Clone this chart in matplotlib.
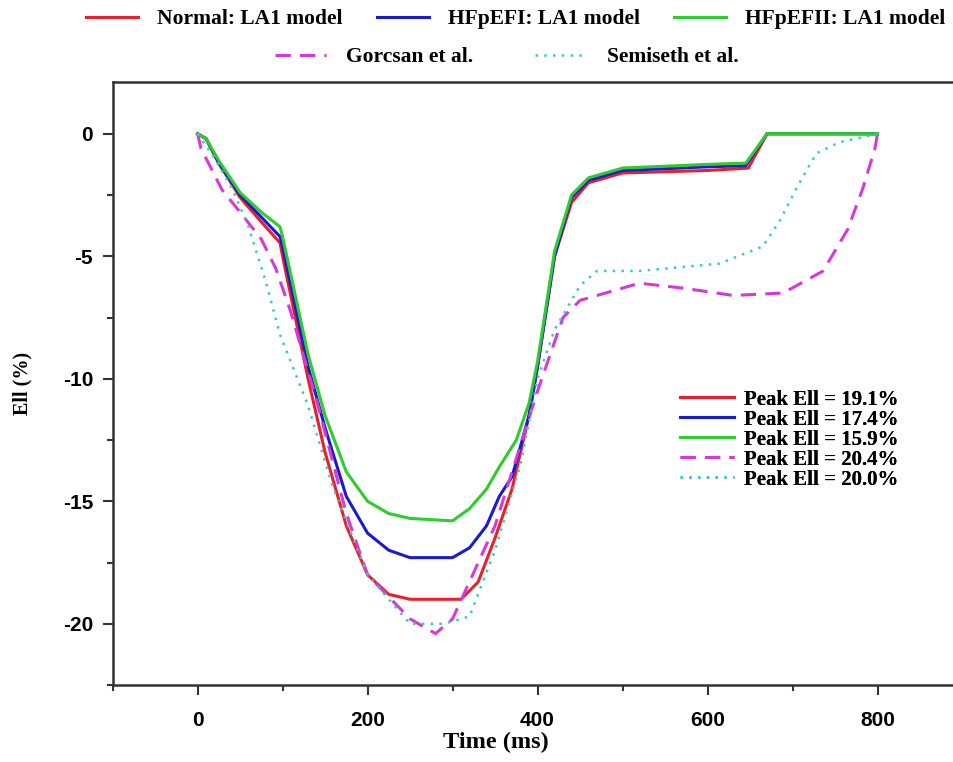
import numpy as np
import matplotlib.pyplot as plt
from matplotlib.ticker import MultipleLocator

plt.rcParams['axes.unicode_minus'] = False

# Normal: LA1 model (red)
t_red = [0, 10, 25, 50, 75, 97, 100, 130, 150, 175, 200, 225, 250, 310, 330, 350, 370, 390, 400, 420, 440, 460, 500, 600, 648, 670, 800]
e_red = [0, -0.2, -1.2, -2.6, -3.6, -4.45, -5.0, -10.0, -13.0, -16.0, -18.0, -18.8, -19.0, -19.0, -18.3, -16.5, -14.5, -11.5, -9.5, -5.0, -2.8, -2.0, -1.6, -1.5, -1.4, 0, 0]

# HFpEFI: LA1 model (blue)
t_blue = [0, 10, 25, 50, 75, 97, 100, 130, 150, 175, 200, 225, 250, 300, 320, 340, 355, 370, 390, 400, 420, 440, 460, 500, 600, 645, 670, 800]
e_blue = [0, -0.2, -1.2, -2.5, -3.4, -4.2, -4.6, -9.5, -12.0, -14.8, -16.3, -17.0, -17.3, -17.3, -16.9, -16.0, -14.8, -14.0, -11.5, -9.5, -5.0, -2.6, -1.9, -1.5, -1.35, -1.3, 0, 0]

# HFpEFII: LA1 model (green)
t_green = [0, 10, 25, 50, 75, 97, 100, 130, 150, 175, 200, 225, 250, 300, 320, 340, 355, 375, 390, 400, 420, 440, 460, 500, 600, 645, 670, 800]
e_green = [0, -0.2, -1.1, -2.4, -3.2, -3.8, -4.2, -9.0, -11.5, -13.8, -15.0, -15.5, -15.7, -15.8, -15.3, -14.5, -13.6, -12.5, -11.0, -9.3, -4.8, -2.5, -1.8, -1.4, -1.25, -1.2, 0, 0]

# Gorcsan et al. (magenta dashed)
t_gor = [0, 4, 29, 50, 75, 92, 109, 141, 175, 200, 250, 280, 300, 350, 400, 430, 450, 500, 520, 571, 630, 689, 736, 765, 783, 797, 800]
e_gor = [0, -0.6, -2.3, -3.2, -4.3, -5.5, -7.2, -11.0, -15.5, -18.0, -19.8, -20.4, -19.8, -16.0, -10.5, -7.5, -6.8, -6.3, -6.1, -6.3, -6.6, -6.5, -5.6, -3.9, -2.2, -0.6, 0]

# Semiseth et al. (cyan dotted)
t_sem = [0, 20, 40, 59, 80, 97, 129, 160, 200, 250, 290, 320, 350, 380, 400, 420, 450, 470, 520, 614, 665, 685, 705, 728, 755, 800]
e_sem = [0, -1.0, -2.2, -3.7, -6.0, -8.2, -11.0, -14.5, -18.0, -20.0, -20.0, -19.7, -17.0, -13.5, -10.0, -8.0, -6.2, -5.6, -5.6, -5.3, -4.6, -3.55, -2.2, -0.8, -0.35, 0]

model_labels = ['Normal: LA1 model', 'HFpEFI: LA1 model', 'HFpEFII: LA1 model']
ref_labels = ['Gorcsan et al.', 'Semiseth et al.']
peak_labels = ['Peak Ell = 19.1%', 'Peak Ell = 17.4%', 'Peak Ell = 15.9%',
               'Peak Ell = 20.4%', 'Peak Ell = 20.0%']

serif = 'Liberation Serif'
sans = 'Liberation Sans'

fig = plt.figure(figsize=(9.54, 7.62), dpi=100)
ax = fig.add_axes([0.118, 0.101, 0.882, 0.791])

l1, = ax.plot(t_red, e_red, color='#e8202a', lw=2.2)
l2, = ax.plot(t_blue, e_blue, color='#1a1ad0', lw=2.2)
l3, = ax.plot(t_green, e_green, color='#2ecc2e', lw=2.2)
l4, = ax.plot(t_gor, e_gor, color='#d63ad6', lw=2.2, ls=(0, (5, 3)))
l5, = ax.plot(t_sem, e_sem, color='#3cc8c8', lw=1.8, ls=(0, (1, 2.5)))

ax.set_xlim(-100, 890)
ax.set_ylim(-22.5, 2.1)
ax.xaxis.set_major_locator(MultipleLocator(200))
ax.xaxis.set_minor_locator(MultipleLocator(100))
ax.yaxis.set_major_locator(MultipleLocator(5))
ax.yaxis.set_minor_locator(MultipleLocator(2.5))
ax.tick_params(which='both', direction='out', width=1.5, colors='#333333')
ax.tick_params(which='major', length=7)
ax.tick_params(which='minor', length=4)
ax.spines['right'].set_visible(False)
for s in ['left', 'bottom', 'top']:
    ax.spines[s].set_linewidth(1.8)
    ax.spines[s].set_color('#333333')

for lab in ax.get_xticklabels() + ax.get_yticklabels():
    lab.set_fontfamily(sans)
    lab.set_fontweight('bold')
    lab.set_fontsize(15)
    lab.set_color('black')
ax.tick_params(axis='x', pad=12)
ax.tick_params(axis='y', pad=7)

ax.set_xlabel('Time (ms)', fontfamily=serif, fontweight='bold', fontsize=17.5)
ax.set_ylabel('Ell (%)', fontfamily=serif, fontweight='bold', fontsize=14.5)
ax.xaxis.set_label_coords(0.456, -0.078)
ax.yaxis.set_label_coords(-0.095, 0.5)

# inner legend with peak values
leg_in = ax.legend([l1, l2, l3, l4, l5], peak_labels, loc='upper left',
                   bbox_to_anchor=(0.674, 0.49), frameon=False, borderpad=0,
                   borderaxespad=0,
                   prop={'family': serif, 'weight': 'bold', 'size': 15},
                   handlelength=2.6, labelspacing=0.0, handletextpad=0.5)
ax.add_artist(leg_in)

# top legends (outside the axes)
fig.legend([l1, l2, l3], model_labels, loc='upper left', bbox_to_anchor=(0.09, 0.988),
           ncol=3, frameon=False, borderpad=0, borderaxespad=0,
           prop={'family': serif, 'weight': 'bold', 'size': 15.5},
           handlelength=2.4, columnspacing=1.6, handletextpad=0.9)
fig.legend([l4, l5], ref_labels, loc='upper left', bbox_to_anchor=(0.288, 0.938),
           ncol=2, frameon=False, borderpad=0, borderaxespad=0,
           prop={'family': serif, 'weight': 'bold', 'size': 15.5},
           handlelength=2.4, columnspacing=2.9, handletextpad=0.9)

fig.savefig('out.png', dpi=100)
